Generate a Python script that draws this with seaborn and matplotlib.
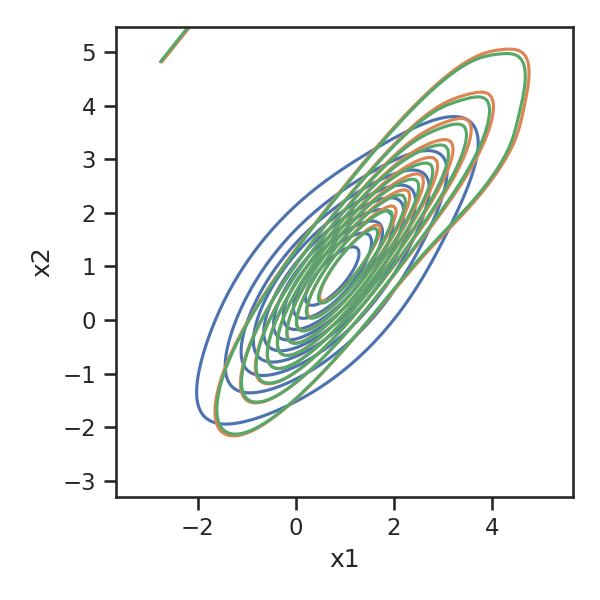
import numpy as np
import matplotlib
matplotlib.use("Agg")
import matplotlib.pyplot as plt
import seaborn as sns

# weighted sample behind the orange and green estimates (x1, x2)
obs_x1 = [-0.30, -0.53, -0.07,
          0.06, -0.21, 0.33,
          0.47, 0.15, 0.79,
          0.99, 0.67, 1.31,
          1.50, 1.18, 1.82,
          2.01, 1.69, 2.33,
          2.62, 2.16, 2.94, 3.39,
          3.23, 2.77, 3.55, 3.92,
          3.70, 3.38, 4.02, 4.47]
obs_x2 = [-0.90, -0.71, -1.09,
          -0.28, -0.06, -0.50,
          0.33, 0.60, 0.06,
          0.95, 1.22, 0.68,
          1.56, 1.83, 1.29,
          2.18, 2.45, 1.91,
          2.80, 3.18, 2.53, 2.16,
          3.41, 3.79, 3.14, 2.77,
          4.03, 4.30, 3.76, 3.39]
w_green = [0.30, 0.20, 0.20,
           1.30, 0.80, 0.80,
           3.20, 1.90, 1.90,
           3.20, 1.90, 1.90,
           2.60, 1.55, 1.55,
           1.98, 1.18, 1.18,
           1.30, 0.79, 0.79, 0.36,
           0.79, 0.47, 0.47, 0.28,
           0.40, 0.24, 0.24, 0.15]
w_orange = [0.30, 0.20, 0.20,
            1.30, 0.80, 0.80,
            3.20, 1.90, 1.90,
            3.20, 1.90, 1.90,
            2.60, 1.55, 1.55,
            2.18, 1.30, 1.30,
            1.43, 0.87, 0.87, 0.40,
            0.87, 0.52, 0.52, 0.31,
            0.44, 0.26, 0.26, 0.17]

# smoother reference density (blue)
ref_x1 = [0.62, 1.34, -0.10, 2.07, -0.83, 0.29, 0.95, -0.04, 1.28]
ref_x2 = [0.70, 1.42, -0.02, 2.15, -0.75, 1.03, 0.37, 1.36, 0.04]
ref_w = [6.0, 2.4, 1.6, 1.8, 0.3, 2.0, 2.0, 0.5, 0.5]

# piece of the outer contour entering at the top left
edge_x1 = [-2.76, -1.95]
edge_x2 = [4.82, 5.75]

sns.set_theme(style="ticks")
pal = sns.color_palette("deep")

fig, ax = plt.subplots(figsize=(4, 4), dpi=150)

sns.kdeplot(x=ref_x1, y=ref_x2, weights=ref_w, color=pal[0], linewidths=1.5,
            bw_adjust=1.8, ax=ax)
sns.kdeplot(x=obs_x1, y=obs_x2, weights=w_orange, color=pal[1], linewidths=1.5,
            bw_adjust=1.3, ax=ax)
sns.kdeplot(x=obs_x1, y=obs_x2, weights=w_green, color=pal[2], linewidths=1.5,
            bw_adjust=1.27, ax=ax)
ax.plot([x + 0.03 for x in edge_x1], edge_x2, color=pal[1], lw=1.5)
ax.plot(edge_x1, edge_x2, color=pal[2], lw=1.5)

ax.set_xlim(-3.67, 5.65)
ax.set_ylim(-3.30, 5.47)
ax.set_xticks([-2, 0, 2, 4])
ax.set_yticks([-3, -2, -1, 0, 1, 2, 3, 4, 5])
ax.set_xlabel("x1")
ax.set_ylabel("x2")

fig.subplots_adjust(left=0.193, right=0.955, bottom=0.172, top=0.955)
fig.savefig("out.png")
